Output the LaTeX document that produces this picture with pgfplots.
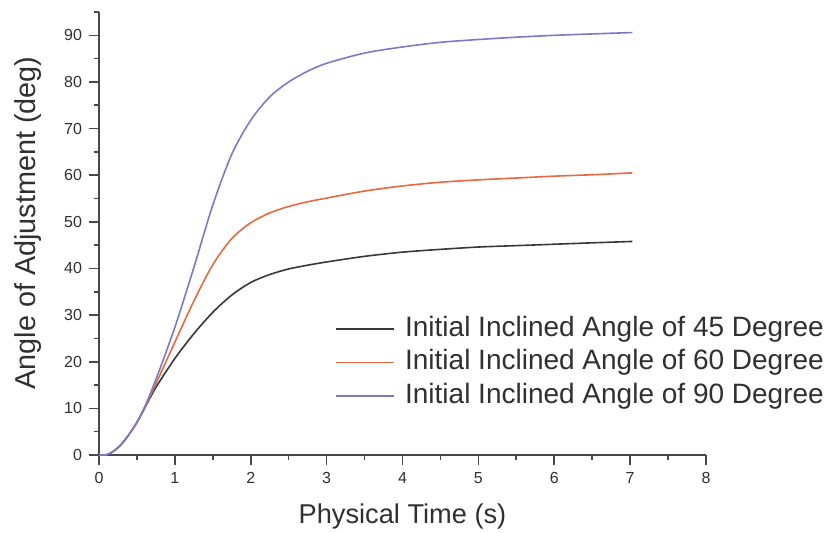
\documentclass[border=0pt]{standalone}
\usepackage{fontspec}
\setmainfont{Liberation Sans}
\usepackage{pgfplots}
\pgfplotsset{compat=1.18}

\definecolor{axgray}{HTML}{484848}
\definecolor{txtgray}{HTML}{303030}
\definecolor{c45}{HTML}{383838}
\definecolor{c60}{HTML}{E8683F}
\definecolor{c90}{HTML}{7A7ACB}

\begin{document}
\begin{tikzpicture}
\path[use as bounding box] (-49.5bp,-39bp) rectangle (364bp,227.5bp);
\begin{axis}[
    at={(0,0)}, anchor=south west,
    scale only axis,
    width=303.5bp, height=221.5bp,
    xmin=0, xmax=8, ymin=0, ymax=95,
    axis x line=bottom, axis y line=left,
    axis line style={-, axgray, line width=1bp},
    xtick={0,1,...,8}, ytick={0,10,...,90},
    minor xtick={0.5,1.5,...,7.5}, minor ytick={5,15,...,95},
    tick align=outside,
    major tick length=5bp, minor tick length=2.5bp,
    every tick/.style={axgray, line width=0.8bp},
    ticklabel style={font=\fontsize{8bp}{9bp}\selectfont, text=txtgray},
    /pgf/number format/assume math mode=true,
    xlabel={Physical Time (s)},
    ylabel={Angle of Adjustment (deg)},
    xlabel style={at={(axis description cs:0.5,-0.1377)}, anchor=center,
        font=\fontsize{13.6bp}{15bp}\selectfont, text=txtgray},
    ylabel style={at={(axis description cs:-0.117,0.524)}, anchor=center,
        font=\fontsize{14.4bp}{16bp}\selectfont, text=txtgray},
    legend style={draw=none, fill=none, inner sep=0pt,
        at={(rel axis cs:0.389,0.2084)}, anchor=west,
        font=\fontsize{14bp}{16bp}\selectfont, text=txtgray,
        nodes={inner sep=0pt, text height=10bp, text depth=3bp},
        row sep=3.8bp, column sep=5bp},
    legend cell align=left,
    legend image code/.code={\draw[#1] (0bp,0bp) -- (29bp,0bp);},
]
% 45 degree
\addplot[c45, line width=0.8bp, smooth] coordinates {
(0,0) (0.1,0.05) (0.2,0.9) (0.3,2.4) (0.4,4.5) (0.5,7.0) (0.6,10.0)
(0.75,14.5) (1.0,20.7) (1.25,26.0) (1.5,30.6) (1.75,34.3) (2.0,37.0)
(2.25,38.7) (2.5,39.9) (2.75,40.7) (3.0,41.4) (3.5,42.6) (4.0,43.5)
(4.5,44.1) (5.0,44.6) (5.5,44.9) (6.0,45.2) (6.5,45.5) (7.03,45.8)
};
\addlegendentry{Initial Inclined Angle of 45 Degree}
% 60 degree
\addplot[c60, line width=0.8bp, smooth] coordinates {
(0,0) (0.1,0.05) (0.2,0.9) (0.3,2.4) (0.4,4.5) (0.5,7.0) (0.6,10.1)
(0.75,15.3) (1.0,24.2) (1.25,33.0) (1.5,40.8) (1.75,46.4) (2.0,49.8)
(2.25,51.9) (2.5,53.3) (2.75,54.3) (3.0,55.1) (3.5,56.6) (4.0,57.7)
(4.5,58.5) (5.0,59.0) (5.5,59.4) (6.0,59.8) (6.5,60.1) (7.03,60.5)
};
\addlegendentry{Initial Inclined Angle of 60 Degree}
% 90 degree
\addplot[c90, line width=0.8bp, smooth] coordinates {
(0,0) (0.1,0.05) (0.2,0.9) (0.3,2.4) (0.4,4.5) (0.5,7.0) (0.6,10.2)
(0.75,16.2) (1.0,27.4) (1.25,40.2) (1.5,53.6) (1.75,64.5) (2.0,71.8)
(2.25,76.8) (2.5,80.0) (2.75,82.3) (3.0,84.0) (3.5,86.2) (4.0,87.5)
(4.5,88.5) (5.0,89.1) (5.5,89.6) (6.0,90.0) (6.5,90.3) (7.03,90.6)
};
\addlegendentry{Initial Inclined Angle of 90 Degree}
\end{axis}
\end{tikzpicture}
\end{document}
